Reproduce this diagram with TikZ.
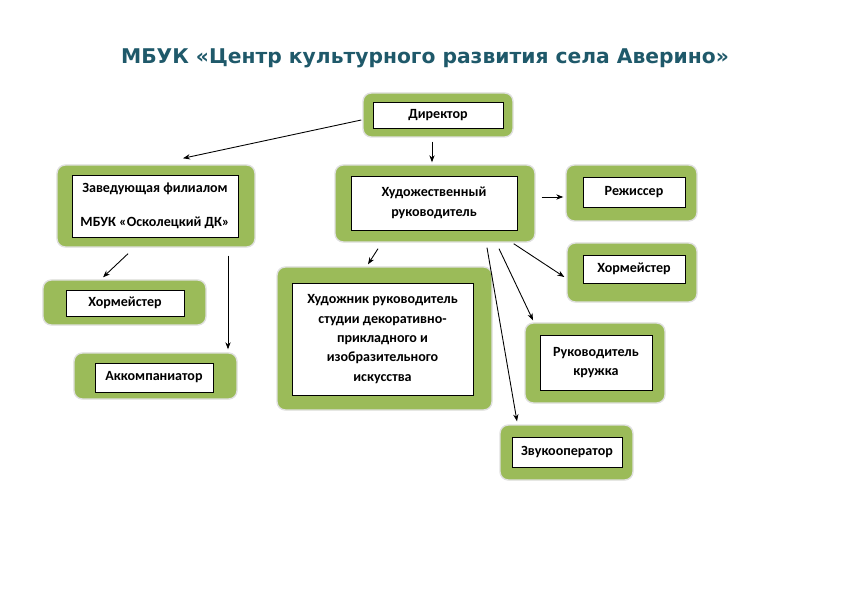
\documentclass[tikz,border=0pt]{standalone}
\usepackage{fontspec}
\setmainfont{Carlito}
\newfontfamily\titlefont{DejaVu Sans}
\usepackage{tikz}
\usepackage{xcolor}
\usetikzlibrary{arrows.meta,calc}
\definecolor{leaf}{RGB}{155,187,89}
\definecolor{teal}{RGB}{31,89,106}

\begin{document}
\begin{tikzpicture}[
    x=0.03cm, y=-0.03cm,
    >={Stealth[length=6pt,width=4.5pt]},
    font=\bfseries\fontsize{12}{16.5}\selectfont
]

\tikzstyle{pad}=[
    rectangle,
    rounded corners=0.25cm,
    fill=leaf,
    draw=black!12,
    line width=1.2pt,
    inner sep=0pt
]
\tikzstyle{card}=[
    rectangle,
    draw=black,
    fill=white,
    line width=0.6pt,
    inner sep=0pt,
    align=center
]
\tikzstyle{link}=[->, line width=0.75pt]

\useasboundingbox (0,0) rectangle (850,601);

\node[teal, font=\titlefont\bfseries\fontsize{17.3}{20}\selectfont] (title) at (425,58)
    {МБУК «Центр культурного развития села Аверино»};

% outer green pads
\node[pad, minimum width=4.5cm,  minimum height=1.32cm] (dir)    at (438,115) {};
\node[pad, minimum width=6.0cm,  minimum height=2.31cm] (art)    at (435,203.5) {};
\node[pad, minimum width=5.94cm, minimum height=2.46cm] (branch) at (156,206) {};
\node[pad, minimum width=4.89cm, minimum height=1.35cm] (chorA)  at (124.5,302.5) {};
\node[pad, minimum width=4.89cm, minimum height=1.38cm] (accomp) at (155.5,376) {};
\node[pad, minimum width=6.45cm, minimum height=4.29cm] (studio) at (384.5,338.5) {};
\node[pad, minimum width=3.93cm, minimum height=1.68cm] (stage)  at (631.5,193) {};
\node[pad, minimum width=3.9cm,  minimum height=1.77cm] (chorB)  at (632,272.5) {};
\node[pad, minimum width=4.2cm,  minimum height=2.4cm]  (club)   at (595,363) {};
\node[pad, minimum width=3.99cm, minimum height=1.65cm] (sound)  at (566.5,452.5) {};

% white cards
\node[card, minimum width=3.9cm,  minimum height=0.78cm] (dir-t)    at (438,115) {Директор};
\node[card, minimum width=4.98cm, minimum height=1.62cm] (art-t)    at (434,203) {Художественный\\руководитель};
\node[card, minimum width=4.98cm, minimum height=1.86cm] (branch-t) at (155,206) {Заведующая филиалом\\[13pt]МБУК «Осколецкий ДК»};
\node[card, minimum width=3.54cm, minimum height=0.78cm] (chorA-t)  at (125,303) {Хормейстер};
\node[card, minimum width=3.54cm, minimum height=0.87cm] (accomp-t) at (154,377.5) {Аккомпаниатор};
\node[card, minimum width=5.43cm, minimum height=3.36cm] (studio-t) at (382.5,339)
    {Художник руководитель\\студии декоративно-\\прикладного и\\изобразительного\\искусства};
\node[card, minimum width=3.06cm, minimum height=0.9cm]  (stage-t)  at (634,192) {Режиссер};
\node[card, minimum width=3.06cm, minimum height=0.84cm] (chorB-t)  at (634,269) {Хормейстер};
\node[card, minimum width=3.36cm, minimum height=1.65cm] (club-t)   at (596,362.5) {Руководитель\\кружка};
\node[card, minimum width=3.3cm,  minimum height=0.9cm]  (sound-t)  at (567,452) {Звукооператор};

% arrows
\draw[link] ($(dir.west)+(-1,5)$) -- ($(branch.north)+(27,-6)$);
\draw[link] ($(dir.south)+(-6,4)$) -- ($(art.north)+(-3,-2)$);
\draw[link] ($(branch.south)+(-28,6)$) -- ($(chorA.north)+(-21.5,-2)$);
\draw[link] ($(branch.south)+(72,8)$) -- ($(accomp.north)+(72.5,-3)$);
\draw[link] ($(art.south)+(-57,6)$) -- ($(studio.north)+(-16.5,-2)$);
\draw[link] ($(art.east)+(6,-6.5)$) -- ($(stage.west)+(-2,4)$);
\draw[link] ($(art.south east)+(-22,1)$) -- ($(chorB.west)+(-2,4.5)$);
\draw[link] ($(art.south)+(64,6)$) -- ($(club.north)+(-62,-2)$);
\draw[link] ($(art.south)+(52,5)$) -- ($(sound.north)+(-49.5,-3)$);

\end{tikzpicture}
\end{document}
